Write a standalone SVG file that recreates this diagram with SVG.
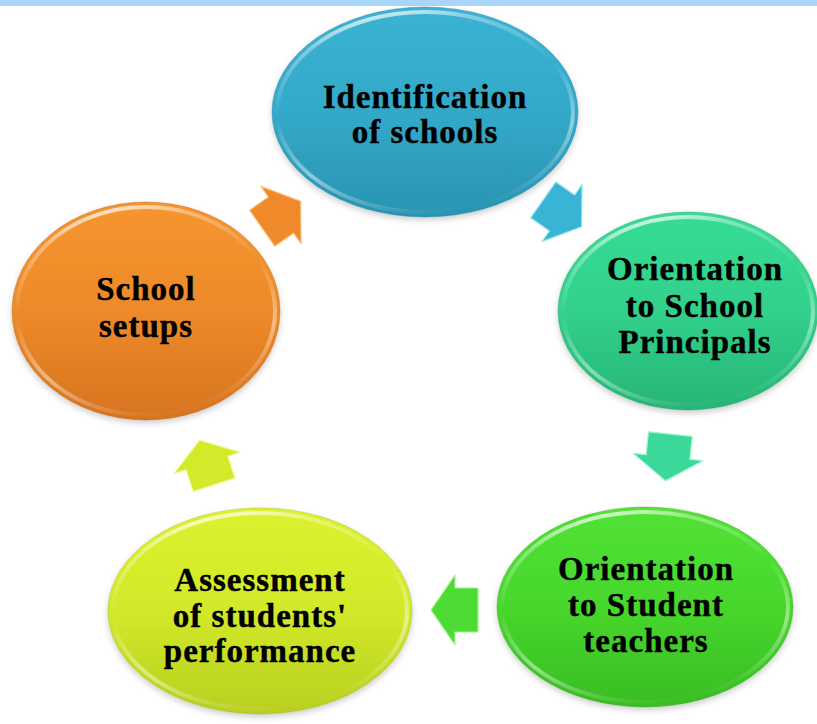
<svg xmlns="http://www.w3.org/2000/svg" width="817" height="724" viewBox="0 0 817 724">
<style>
.lbl{font-family:"Liberation Serif","Times New Roman",serif;font-weight:bold;font-size:33px;letter-spacing:1px;fill:#000;stroke:#000;stroke-width:0.4;text-anchor:middle}
.rim{fill:none;stroke:url(#rimG);stroke-width:4}
.edge{fill:none;stroke-width:1;stroke-opacity:0.35}
.arr{stroke-width:1.2;stroke-linejoin:round}
</style>
<defs>
<filter id="sh" x="-10%" y="-10%" width="120%" height="125%">
<feDropShadow dx="0" dy="3" stdDeviation="3" flood-color="#000" flood-opacity="0.2"/>
</filter>
<linearGradient id="rimG" x1="0.3" y1="0" x2="0.6" y2="1">
<stop offset="0" stop-color="#fff" stop-opacity="0.8"/>
<stop offset="0.12" stop-color="#fff" stop-opacity="0.35"/>
<stop offset="0.4" stop-color="#fff" stop-opacity="0"/>
<stop offset="0.7" stop-color="#fff" stop-opacity="0.45"/>
<stop offset="1" stop-color="#fff" stop-opacity="0"/>
</linearGradient>
<linearGradient id="gBlue" x1="0" y1="0" x2="0" y2="1">
<stop offset="0" stop-color="#3bb3d2"/><stop offset="0.5" stop-color="#33a9c9"/><stop offset="1" stop-color="#2a93b2"/>
</linearGradient>
<linearGradient id="gTeal" x1="0" y1="0" x2="0" y2="1">
<stop offset="0" stop-color="#37dc94"/><stop offset="0.5" stop-color="#31d18b"/><stop offset="1" stop-color="#27b574"/>
</linearGradient>
<linearGradient id="gGreen" x1="0" y1="0" x2="0" y2="1">
<stop offset="0" stop-color="#52e236"/><stop offset="0.5" stop-color="#47d72c"/><stop offset="1" stop-color="#39bd23"/>
</linearGradient>
<linearGradient id="gYel" x1="0" y1="0" x2="0" y2="1">
<stop offset="0" stop-color="#dcf22e"/><stop offset="0.5" stop-color="#d2e92a"/><stop offset="1" stop-color="#b8cf20"/>
</linearGradient>
<linearGradient id="gOr" x1="0" y1="0" x2="0" y2="1">
<stop offset="0" stop-color="#f6952f"/><stop offset="0.5" stop-color="#ee8a2a"/><stop offset="1" stop-color="#d7741f"/>
</linearGradient>
<path id="arrow" d="M -23,-22 H 0 V -35 L 24,0 L 0,35 V 22 H -23 Z"/>
</defs>
<rect x="0" y="0" width="817" height="6" fill="#abd6fb"/>

<g id="connectors">
<use href="#arrow" class="arr" fill="#f0892a" stroke="#ffc07a" transform="translate(281,215) rotate(-35)"/>
<use href="#arrow" class="arr" fill="#3ab4d5" stroke="#9ee8f8" transform="translate(562,213) rotate(35)"/>
<use href="#arrow" class="arr" fill="#3ad99a" stroke="#9ff5cf" transform="translate(668,457) rotate(96)"/>
<use href="#arrow" class="arr" fill="#4cdc34" stroke="#a6f590" transform="translate(455,610) rotate(180)"/>
<use href="#arrow" class="arr" fill="#d2ea2a" stroke="#f0fb9a" transform="translate(207,463) rotate(-108)"/>
</g>

<g id="n1">
<ellipse cx="425" cy="112" rx="153" ry="105" fill="url(#gBlue)" filter="url(#sh)"/>
<ellipse cx="425" cy="112" rx="148" ry="100" class="rim"/>
<ellipse cx="425" cy="112" rx="153" ry="105" class="edge" stroke="#1f7f9c"/>
<text class="lbl" x="425" y="108">Identification</text>
<text class="lbl" x="425" y="143">of schools</text>
</g>

<g id="n2">
<ellipse cx="688" cy="311" rx="130" ry="99" fill="url(#gTeal)" filter="url(#sh)"/>
<ellipse cx="688" cy="311" rx="125" ry="94" class="rim"/>
<ellipse cx="688" cy="311" rx="130" ry="99" class="edge" stroke="#1d9a60"/>
<text class="lbl" x="695" y="280">Orientation</text>
<text class="lbl" x="695" y="317">to School</text>
<text class="lbl" x="695" y="353">Principals</text>
</g>

<g id="n3">
<ellipse cx="645" cy="607" rx="148" ry="100" fill="url(#gGreen)" filter="url(#sh)"/>
<ellipse cx="645" cy="607" rx="143" ry="95" class="rim"/>
<ellipse cx="645" cy="607" rx="148" ry="100" class="edge" stroke="#2d9a1a"/>
<text class="lbl" x="646" y="580">Orientation</text>
<text class="lbl" x="646" y="616">to Student</text>
<text class="lbl" x="646" y="652">teachers</text>
</g>

<g id="n4">
<ellipse cx="260" cy="611" rx="152" ry="103" fill="url(#gYel)" filter="url(#sh)"/>
<ellipse cx="260" cy="611" rx="147" ry="98" class="rim"/>
<ellipse cx="260" cy="611" rx="152" ry="103" class="edge" stroke="#98ad16"/>
<text class="lbl" x="260" y="591">Assessment</text>
<text class="lbl" x="260" y="627">of students'</text>
<text class="lbl" x="260" y="662">performance</text>
</g>

<g id="n5">
<ellipse cx="146" cy="311" rx="134" ry="109" fill="url(#gOr)" filter="url(#sh)"/>
<ellipse cx="146" cy="311" rx="129" ry="104" class="rim"/>
<ellipse cx="146" cy="311" rx="134" ry="109" class="edge" stroke="#b35e14"/>
<text class="lbl" x="146" y="300">School</text>
<text class="lbl" x="146" y="337">setups</text>
</g>
</svg>
